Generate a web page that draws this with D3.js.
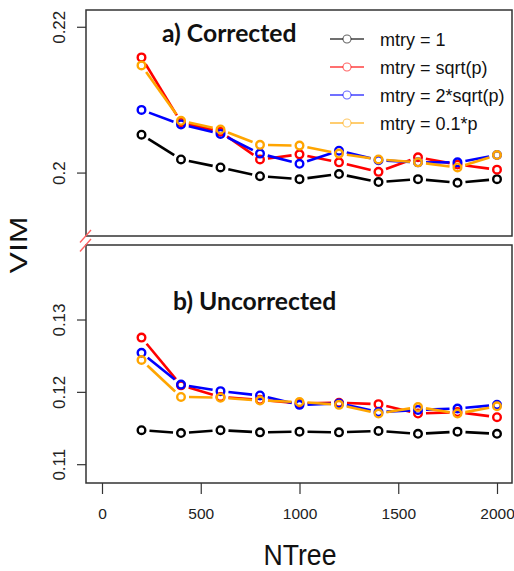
<!DOCTYPE html>
<html>
<head>
<meta charset="utf-8">
<script src="https://cdn.jsdelivr.net/npm/d3@7"></script>
<style>
  body { margin: 0; background: #fff; }
  text { font-family: "Liberation Sans", Arial, sans-serif; }
</style>
</head>
<body>
<svg id="chart" width="514" height="571"></svg>
<script>
// VIM vs number of trees, two panels with a broken y axis

const ntree = [200, 400, 600, 800, 1000, 1200, 1400, 1600, 1800, 2000];
const seriesNames = ['mtry = 1', 'mtry = sqrt(p)', 'mtry = 2*sqrt(p)', 'mtry = 0.1*p'];
const seriesColors = ['#000000', '#ff0000', '#0000ff', '#ffa500'];

// a) Corrected
const corrected = [
  [0.2052, 0.2018, 0.2007, 0.1995, 0.1991, 0.1998, 0.1987, 0.1991, 0.1986, 0.1991],
  [0.2158, 0.2069, 0.2056, 0.2018, 0.2025, 0.2014, 0.2001, 0.2021, 0.2011, 0.2004],
  [0.2086, 0.2066, 0.2053, 0.2026, 0.2012, 0.2030, 0.2017, 0.2014, 0.2014, 0.2024],
  [0.2147, 0.2071, 0.2059, 0.2038, 0.2037, 0.2026, 0.2018, 0.2014, 0.2007, 0.2024]
];

// b) Uncorrected
const uncorrected = [
  [0.1147, 0.1143, 0.1147, 0.1144, 0.1145, 0.1144, 0.1146, 0.1142, 0.1145, 0.1142],
  [0.1275, 0.1209, 0.1193, 0.1189, 0.1184, 0.1185, 0.1183, 0.1170, 0.1172, 0.1165],
  [0.1254, 0.1210, 0.1201, 0.1195, 0.1182, 0.1184, 0.1172, 0.1175, 0.1177, 0.1182],
  [0.1244, 0.1193, 0.1192, 0.1188, 0.1186, 0.1182, 0.1170, 0.1179, 0.1170, 0.1180]
];

const xTicks = [0, 500, 1000, 1500, 2000];
const topTicks = [0.2, 0.22];
const bottomTicks = [0.11, 0.12, 0.13];

const svg = d3.select('#chart');

const left = 86, right = 512;
const x = d3.scaleLinear().domain([0, 2000]).range([102, 497]);

const panels = [
  { title: 'a) Corrected', data: corrected, ticks: topTicks,
    top: 10, bottom: 236, domain: [0.1913, 0.2223], titleX: 162, titleY: 42 },
  { title: 'b) Uncorrected', data: uncorrected, ticks: bottomTicks,
    top: 245, bottom: 483, domain: [0.1074, 0.1403], titleX: 173, titleY: 310 }
];

const gap = 8;

panels.forEach((p) => {
  const y = d3.scaleLinear().domain(p.domain).range([p.bottom, p.top]);
  const g = svg.append('g');

  // y axis ticks (R style, rotated labels)
  const ya = g.append('g').attr('transform', `translate(${left},0)`)
    .call(d3.axisLeft(y).tickValues(p.ticks).tickSize(9).tickPadding(0)
      .tickFormat(d3.format('')));
  ya.select('.domain').remove();
  ya.selectAll('line').attr('stroke', '#333').attr('stroke-width', 1.2);
  ya.selectAll('text')
    .attr('x', null).attr('dy', null)
    .attr('transform', 'translate(-21,0) rotate(-90)')
    .attr('text-anchor', 'middle')
    .attr('fill', '#222')
    .style('font-size', '17px');

  // series
  p.data.forEach((vals, si) => {
    const pts = vals.map((v, i) => [x(ntree[i]), y(v)]);
    const segs = d3.pairs(pts).map(([a, b]) => {
      const dx = b[0] - a[0], dy = b[1] - a[1];
      const len = Math.hypot(dx, dy);
      const ux = dx / len, uy = dy / len;
      return [a[0] + ux * gap, a[1] + uy * gap, b[0] - ux * gap, b[1] - uy * gap, len];
    }).filter((s) => s[4] > gap * 2);

    g.append('g').selectAll('line')
      .data(segs)
      .enter()
      .append('line')
      .attr('x1', (s) => s[0]).attr('y1', (s) => s[1])
      .attr('x2', (s) => s[2]).attr('y2', (s) => s[3])
      .attr('stroke', seriesColors[si])
      .attr('stroke-width', 2.6)
      .attr('stroke-linecap', 'butt');

    g.append('g').selectAll('circle')
      .data(pts)
      .enter()
      .append('circle')
      .attr('cx', (d) => d[0])
      .attr('cy', (d) => d[1])
      .attr('r', 3.8)
      .attr('fill', 'none')
      .attr('stroke', seriesColors[si])
      .attr('stroke-width', 2.4);
  });

  // box
  g.append('rect')
    .attr('x', left).attr('y', p.top)
    .attr('width', right - left).attr('height', p.bottom - p.top)
    .attr('fill', 'none')
    .attr('stroke', '#333')
    .attr('stroke-width', 1.5);

  g.append('text')
    .attr('x', p.titleX).attr('y', p.titleY)
    .style('font-family', 'Lato, "Open Sans", sans-serif')
    .style('font-weight', 700)
    .style('font-size', '24.7px')
    .attr('fill', '#111')
    .text(p.title);

  p.y = y;
});

// break marks
svg.append('g').selectAll('line')
  .data([panels[0].bottom, panels[1].top])
  .enter()
  .append('line')
  .attr('x1', left - 6).attr('y1', (d) => d + 6.5)
  .attr('x2', left + 5).attr('y2', (d) => d - 6)
  .attr('stroke', '#ff6060')
  .attr('stroke-width', 1.3);

// x axis
const xa = svg.append('g').attr('transform', `translate(0,${panels[1].bottom})`)
  .call(d3.axisBottom(x).tickValues(xTicks).tickSize(11).tickPadding(14)
    .tickFormat(d3.format('d')));
xa.select('.domain').remove();
xa.selectAll('line').attr('stroke', '#333').attr('stroke-width', 1.2);
xa.selectAll('text').attr('fill', '#222').style('font-size', '15.5px');

// axis titles
svg.append('text')
  .attr('x', 300).attr('y', 565)
  .attr('text-anchor', 'middle')
  .attr('textLength', 73)
  .attr('lengthAdjust', 'spacingAndGlyphs')
  .style('font-size', '30px')
  .attr('fill', '#111')
  .text('NTree');

svg.append('text')
  .attr('transform', 'translate(27,245) rotate(-90)')
  .attr('text-anchor', 'middle')
  .attr('textLength', 57)
  .attr('lengthAdjust', 'spacingAndGlyphs')
  .style('font-size', '24px')
  .attr('fill', '#111')
  .text('VIM');

// legend
const legend = svg.append('g').attr('transform', 'translate(330,39)');
const rows = legend.selectAll('g')
  .data(seriesNames)
  .enter()
  .append('g')
  .attr('transform', (d, i) => `translate(0,${i * 28})`);

rows.append('line')
  .attr('x1', 0).attr('x2', 34)
  .attr('stroke', (d, i) => seriesColors[i])
  .attr('stroke-opacity', 0.75)
  .attr('stroke-width', 1.3);

rows.append('circle')
  .attr('cx', 17).attr('r', 4)
  .attr('fill', '#fff')
  .attr('stroke', (d, i) => seriesColors[i])
  .attr('stroke-opacity', 0.6)
  .attr('stroke-width', 1.1);

rows.append('text')
  .attr('x', 50).attr('y', 7)
  .attr('fill', '#111')
  .style('font-size', '18px')
  .text((d) => d);
</script>
</body>
</html>
